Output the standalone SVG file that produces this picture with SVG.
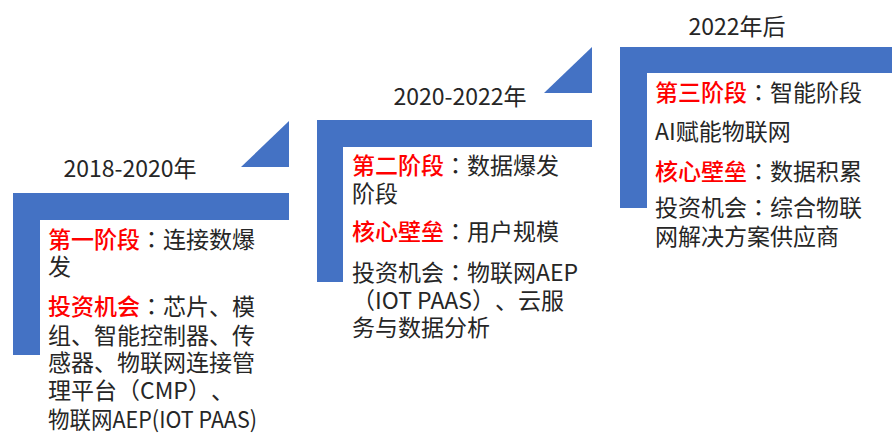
<svg xmlns="http://www.w3.org/2000/svg" width="892" height="444" viewBox="0 0 892 444">
<style>
.bar{fill:#4472C4}
.yr{font-family:"Noto Sans CJK SC","Noto Sans",sans-serif;font-size:23px;fill:#262626;text-anchor:middle}
.t{font-family:"Noto Sans CJK SC",sans-serif;font-size:23px;fill:#262626;text-spacing-trim:space-all}
.r{fill:#FF0000;font-weight:500}
.c{font-family:"Noto Sans CJK TC",sans-serif}
</style>
<rect width="892" height="444" fill="#ffffff"/>
<g id="stage1">
<path class="bar" d="M13,193 H289 V220 H40 V355 H13 Z"/>
<path class="bar" d="M241,167 L289,121 L289,167 Z"/>
<text class="yr" x="130" y="177">2018-2020年</text>
<text class="t" x="48" y="248"><tspan class="r">第一阶段</tspan><tspan class="c">：</tspan>连接数爆<tspan x="48" y="275">发</tspan></text>
<text class="t" x="48" y="315"><tspan class="r">投资机会</tspan><tspan class="c">：</tspan>芯片、模<tspan x="48" y="344">组、智能控制器、传</tspan><tspan x="48" y="371">感器、物联网连接管</tspan><tspan x="48" y="399">理平台（CMP）、</tspan><tspan x="48" y="428" textLength="209" lengthAdjust="spacingAndGlyphs">物联网AEP(IOT PAAS)</tspan></text>
</g>
<g id="stage2">
<path class="bar" d="M317,120 H592 V147 H343 V282 H317 Z"/>
<path class="bar" d="M544,93 L592,47 L592,93 Z"/>
<text class="yr" x="460" y="105">2020-2022年</text>
<text class="t" x="352" y="174"><tspan class="r">第二阶段</tspan><tspan class="c">：</tspan>数据爆发<tspan x="352" y="202">阶段</tspan></text>
<text class="t" x="352" y="240"><tspan class="r">核心壁垒</tspan><tspan class="c">：</tspan>用户规模</text>
<text class="t" x="352" y="281">投资机会<tspan class="c">：</tspan>物联网AEP<tspan x="352" y="309">（IOT PAAS）、云服</tspan><tspan x="352" y="336">务与数据分析</tspan></text>
</g>
<g id="stage3">
<path class="bar" d="M620,47 H892 V73 H647 V208 H620 Z"/>
<text class="yr" x="737" y="35">2022年后</text>
<text class="t" x="655" y="101"><tspan class="r">第三阶段</tspan><tspan class="c">：</tspan>智能阶段</text>
<text class="t" x="655" y="140">AI赋能物联网</text>
<text class="t" x="655" y="180"><tspan class="r">核心壁垒</tspan><tspan class="c">：</tspan>数据积累</text>
<text class="t" x="655" y="216">投资机会<tspan class="c">：</tspan>综合物联<tspan x="655" y="245">网解决方案供应商</tspan></text>
</g>
<g id="connectors"></g>
</svg>
